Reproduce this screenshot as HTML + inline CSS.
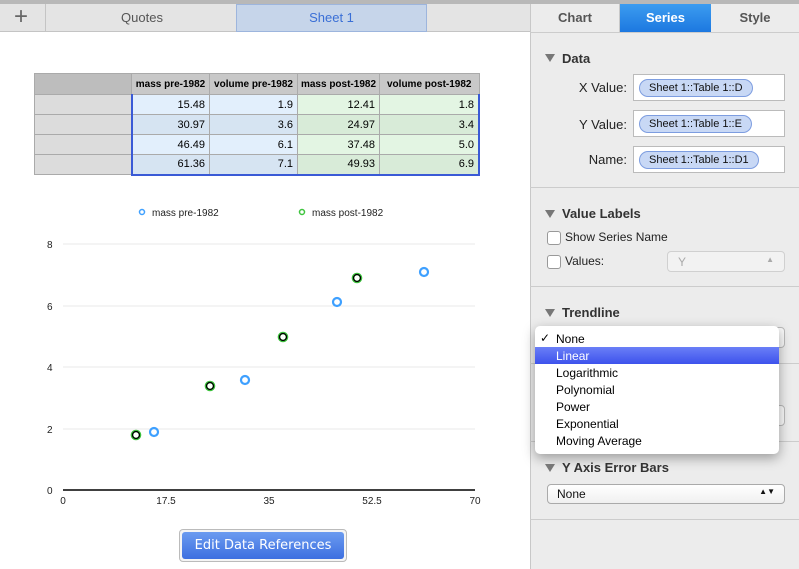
<!DOCTYPE html>
<html><head><style>
*{box-sizing:border-box;margin:0;padding:0}
body{width:799px;height:569px;overflow:hidden;background:#fff;font-family:"Liberation Sans",sans-serif;position:relative}
.a{position:absolute}
.hd{font-weight:bold;font-size:13px;color:#333}
.tri{position:absolute;width:0;height:0;border-left:5px solid transparent;border-right:5px solid transparent;border-top:8px solid #777}
.lbl{position:absolute;font-size:13px;color:#222;text-align:right;width:90px}
.box{position:absolute;background:#fff;border:1px solid #bbb;width:152px;height:27px}
.pill{position:absolute;left:5px;top:4px;height:18px;border:1px solid #7d9de0;background:#c8d8f5;border-radius:9px;font-size:11px;padding:2px 9px;color:#111;white-space:nowrap}
.sep{position:absolute;left:530px;width:269px;height:1px;background:#ccc}
td{border:1px solid #aaa;font-size:11px;text-align:right;padding:0 4px;height:20px;white-space:nowrap}
tr.h td{font-size:10px;font-weight:bold;text-align:center;padding:0;height:21px;background:#c8c8c8}
</style></head><body>
<div class="a" style="left:0;top:0;width:530px;height:4px;background:#b8b8b8"></div>
<div class="a" style="left:0;top:4px;width:530px;height:28px;background:#e4e4e4;border-bottom:1px solid #c4c4c4"></div>
<div class="a" style="left:45px;top:4px;width:1px;height:28px;background:#c4c4c4"></div>
<div class="a" style="left:14px;top:4px;font-size:24px;color:#666;line-height:26px">+</div>
<div class="a" style="left:45px;top:10px;width:194px;text-align:center;font-size:13px;color:#555">Quotes</div>
<div class="a" style="left:236px;top:4px;width:191px;height:28px;background:#c6d5ea;border:1px solid #9db5dd;text-align:center;font-size:13px;color:#3a6fd6;line-height:26px">Sheet 1</div>
<table class="a" style="left:34px;top:73px;border-collapse:collapse;width:446px;table-layout:fixed">
<tr class="h"><td style="width:97px;background:#bdbdbd"></td><td style="width:78px">mass pre-1982</td><td style="width:88px">volume pre-1982</td><td style="width:82px">mass post-1982</td><td>volume post-1982</td></tr>
<tr><td style="background:#dcdcdc"></td><td style="background:#e2effc;border-left:2px solid #3a5ad6">15.48</td><td style="background:#e2effc">1.9</td><td style="background:#e3f5e3">12.41</td><td style="background:#e3f5e3;border-right:2px solid #3a5ad6">1.8</td></tr>
<tr><td style="background:#dcdcdc"></td><td style="background:#d6e4f2;border-left:2px solid #3a5ad6">30.97</td><td style="background:#d6e4f2">3.6</td><td style="background:#d8ebd8">24.97</td><td style="background:#d8ebd8;border-right:2px solid #3a5ad6">3.4</td></tr>
<tr><td style="background:#dcdcdc"></td><td style="background:#e2effc;border-left:2px solid #3a5ad6">46.49</td><td style="background:#e2effc">6.1</td><td style="background:#e3f5e3">37.48</td><td style="background:#e3f5e3;border-right:2px solid #3a5ad6">5.0</td></tr>
<tr><td style="background:#dcdcdc"></td><td style="background:#d6e4f2;border-left:2px solid #3a5ad6;border-bottom:2px solid #3a5ad6">61.36</td><td style="background:#d6e4f2;border-bottom:2px solid #3a5ad6">7.1</td><td style="background:#d8ebd8;border-bottom:2px solid #3a5ad6">49.93</td><td style="background:#d8ebd8;border-right:2px solid #3a5ad6;border-bottom:2px solid #3a5ad6">6.9</td></tr>
</table>
<svg class="a" style="left:0;top:0" width="530" height="569" font-family="Liberation Sans,sans-serif">
<circle cx="142" cy="212" r="2.5" fill="none" stroke="#3ea0ff" stroke-width="1.5"/>
<text x="152" y="216" font-size="10" fill="#222">mass pre-1982</text>
<circle cx="302" cy="212" r="2.5" fill="none" stroke="#3ec43e" stroke-width="1.5"/>
<text x="312" y="216" font-size="10" fill="#222">mass post-1982</text>
<g stroke="#e8e8e8"><line x1="63" x2="475" y1="244" y2="244"/><line x1="63" x2="475" y1="306" y2="306"/><line x1="63" x2="475" y1="367" y2="367"/><line x1="63" x2="475" y1="429" y2="429"/></g>
<line x1="63" x2="475" y1="490" y2="490" stroke="#000" stroke-width="1.5"/>
<g font-size="10" fill="#222"><text x="47" y="248">8</text><text x="47" y="310">6</text><text x="47" y="371">4</text><text x="47" y="433">2</text><text x="47" y="494">0</text>
<text x="63" y="504" text-anchor="middle">0</text><text x="166" y="504" text-anchor="middle">17.5</text><text x="269" y="504" text-anchor="middle">35</text><text x="372" y="504" text-anchor="middle">52.5</text><text x="475" y="504" text-anchor="middle">70</text></g>
<g fill="none" stroke="#3ea0ff" stroke-width="2.2"><circle cx="154" cy="432" r="4"/><circle cx="245" cy="380" r="4"/><circle cx="337" cy="302" r="4"/><circle cx="424" cy="272" r="4"/></g>
<g fill="none" stroke="#3ec43e" stroke-width="2.6"><circle cx="136" cy="435" r="4"/><circle cx="210" cy="386" r="4"/><circle cx="283" cy="337" r="4"/><circle cx="357" cy="278" r="4"/></g>
<g fill="none" stroke="#000" stroke-width="1.3"><circle cx="136" cy="435" r="3.5"/><circle cx="210" cy="386" r="3.5"/><circle cx="283" cy="337" r="3.5"/><circle cx="357" cy="278" r="3.5"/></g>
</svg>
<div class="a" style="left:179px;top:529px;width:168px;height:33px;border:1px solid #bbb;border-radius:4px;background:#f4f4f4"></div>
<div class="a" style="left:182px;top:532px;width:162px;height:27px;background:linear-gradient(#6b9bf0,#3d6fe0);border-radius:3px;color:#fff;font-family:'DejaVu Sans',sans-serif;font-size:13px;text-align:center;line-height:27px">Edit Data References</div>
<div class="a" style="left:530px;top:0;width:269px;height:569px;background:#ececec;border-left:1px solid #c8c8c8"></div>
<div class="a" style="left:530px;top:0;width:269px;height:4px;background:#b8b8b8"></div>
<div class="a" style="left:531px;top:4px;width:89px;height:28px;font-size:13px;font-weight:bold;color:#555;text-align:center;line-height:28px;border-right:1px solid #c8c8c8">Chart</div>
<div class="a" style="left:620px;top:4px;width:91px;height:28px;font-size:13px;font-weight:bold;color:#fff;text-align:center;line-height:28px;background:linear-gradient(#3c9cf0,#1c78e0)">Series</div>
<div class="a" style="left:711px;top:4px;width:88px;height:28px;font-size:13px;font-weight:bold;color:#555;text-align:center;line-height:28px">Style</div>
<div class="sep" style="top:32px"></div>
<div class="tri" style="left:545px;top:54px"></div><div class="a hd" style="left:562px;top:51px">Data</div>
<div class="lbl" style="left:537px;top:80px">X Value:</div><div class="box" style="left:633px;top:74px"><div class="pill">Sheet 1::Table 1::D</div></div>
<div class="lbl" style="left:537px;top:117px">Y Value:</div><div class="box" style="left:633px;top:110px"><div class="pill">Sheet 1::Table 1::E</div></div>
<div class="lbl" style="left:537px;top:152px">Name:</div><div class="box" style="left:633px;top:146px"><div class="pill">Sheet 1::Table 1::D1</div></div>
<div class="sep" style="top:187px"></div>
<div class="tri" style="left:545px;top:210px"></div><div class="a hd" style="left:562px;top:206px">Value Labels</div>
<div class="a" style="left:547px;top:231px;width:14px;height:14px;border:1px solid #999;border-radius:3px;background:#fff"></div>
<div class="a" style="left:565px;top:230px;font-size:12px;color:#222">Show Series Name</div>
<div class="a" style="left:547px;top:255px;width:14px;height:14px;border:1px solid #999;border-radius:3px;background:#fff"></div>
<div class="a" style="left:565px;top:254px;font-size:12px;color:#222">Values:</div>
<div class="a" style="left:667px;top:251px;width:118px;height:21px;border:1px solid #d0d0d0;border-radius:4px;background:#f2f2f2;font-size:12px;color:#aaa;padding:3px 10px">Y<span style="float:right;font-size:8px">▲</span></div>
<div class="sep" style="top:286px"></div>
<div class="tri" style="left:545px;top:309px"></div><div class="a hd" style="left:562px;top:305px">Trendline</div>
<div class="a" style="left:770px;top:327px;width:15px;height:21px;border:1px solid #bbb;border-radius:4px;background:#fafafa"></div>
<div class="sep" style="top:363px"></div>
<div class="a" style="left:547px;top:405px;width:238px;height:21px;border:1px solid #bbb;border-radius:4px;background:#fafafa"></div>
<div class="sep" style="top:441px"></div>
<div class="a" style="left:535px;top:326px;width:244px;height:128px;background:#fff;border-radius:5px;box-shadow:0 4px 12px rgba(0,0,0,.35);font-size:12px;color:#111"></div>
<div class="a" style="left:535px;top:347px;width:244px;height:17px;background:linear-gradient(#6a7ff7,#3d52ec)"></div>
<div class="a" style="left:540px;top:331px;font-size:12px">✓</div>
<div class="a" style="left:556px;top:331px;font-size:12px;line-height:17px">None<br><span style="color:#fff">Linear</span><br>Logarithmic<br>Polynomial<br>Power<br>Exponential<br>Moving Average</div>
<div class="tri" style="left:545px;top:464px"></div><div class="a hd" style="left:562px;top:460px">Y Axis Error Bars</div>
<div class="a" style="left:547px;top:484px;width:238px;height:20px;border:1px solid #aaa;border-radius:4px;background:linear-gradient(#fff,#f0f0f0);font-size:12px;color:#111;padding:2px 9px">None<span style="float:right;font-size:8px">▲▼</span></div>
<div class="sep" style="top:519px"></div>
</body></html>
